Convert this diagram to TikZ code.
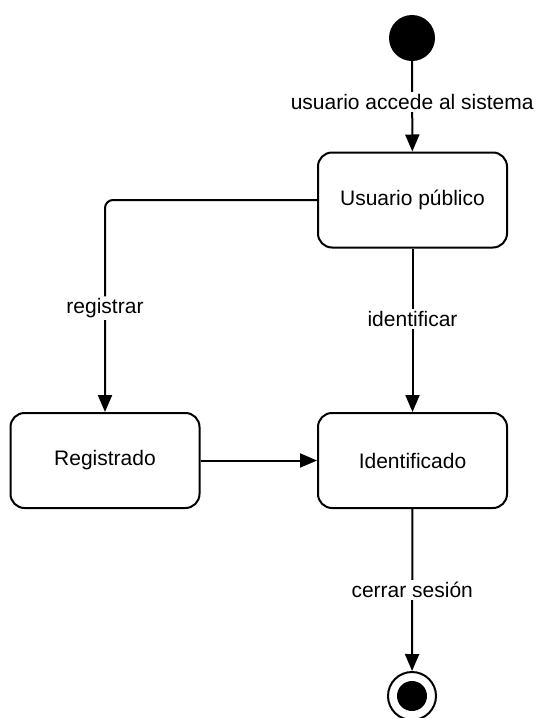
\documentclass[tikz,border=0pt]{standalone}
\usepackage{fontspec}
\setmainfont{Liberation Sans}
\usetikzlibrary{arrows.meta}
\begin{document}
\begin{tikzpicture}[x=1pt,y=-1pt,
  state/.style={draw, line width=2pt, rounded corners=14pt, minimum width=189pt, minimum height=95pt, font=\fontsize{21}{24}\selectfont, inner sep=0pt},
  conn/.style={line width=2pt, -{Triangle[length=17pt,width=14pt]}},
  lbl/.style={fill=white, font=\fontsize{21}{24}\selectfont, inner sep=2pt}]
\useasboundingbox (0,0) rectangle (539,718);
\node[circle, fill=black, minimum size=46pt, inner sep=0pt] (start) at (412,38) {};
\node[state] (pub) at (412.5,200) {Usuario público};
\node[state] (reg) at (105,460.5) {Registrado};
\node[state] (ide) at (412.5,460.5) {Identificado};
\node[circle, draw, line width=2pt, minimum size=48pt, inner sep=0pt] (end) at (412,696) {};
\node[circle, fill=black, minimum size=30pt, inner sep=0pt] at (end.center) {};
\draw[conn] (start) -- node[lbl, pos=0.45] {usuario accede al sistema} (pub);
\draw[conn, rounded corners=8pt] (pub.west) -| node[lbl, pos=0.755] {registrar} (reg.north);
\draw[conn] (pub) -- node[lbl, pos=0.43] {identificar} (ide);
\draw[conn] (reg) -- (ide);
\draw[conn] (ide) -- node[lbl, pos=0.5] {cerrar sesión} (end);
\end{tikzpicture}
\end{document}
